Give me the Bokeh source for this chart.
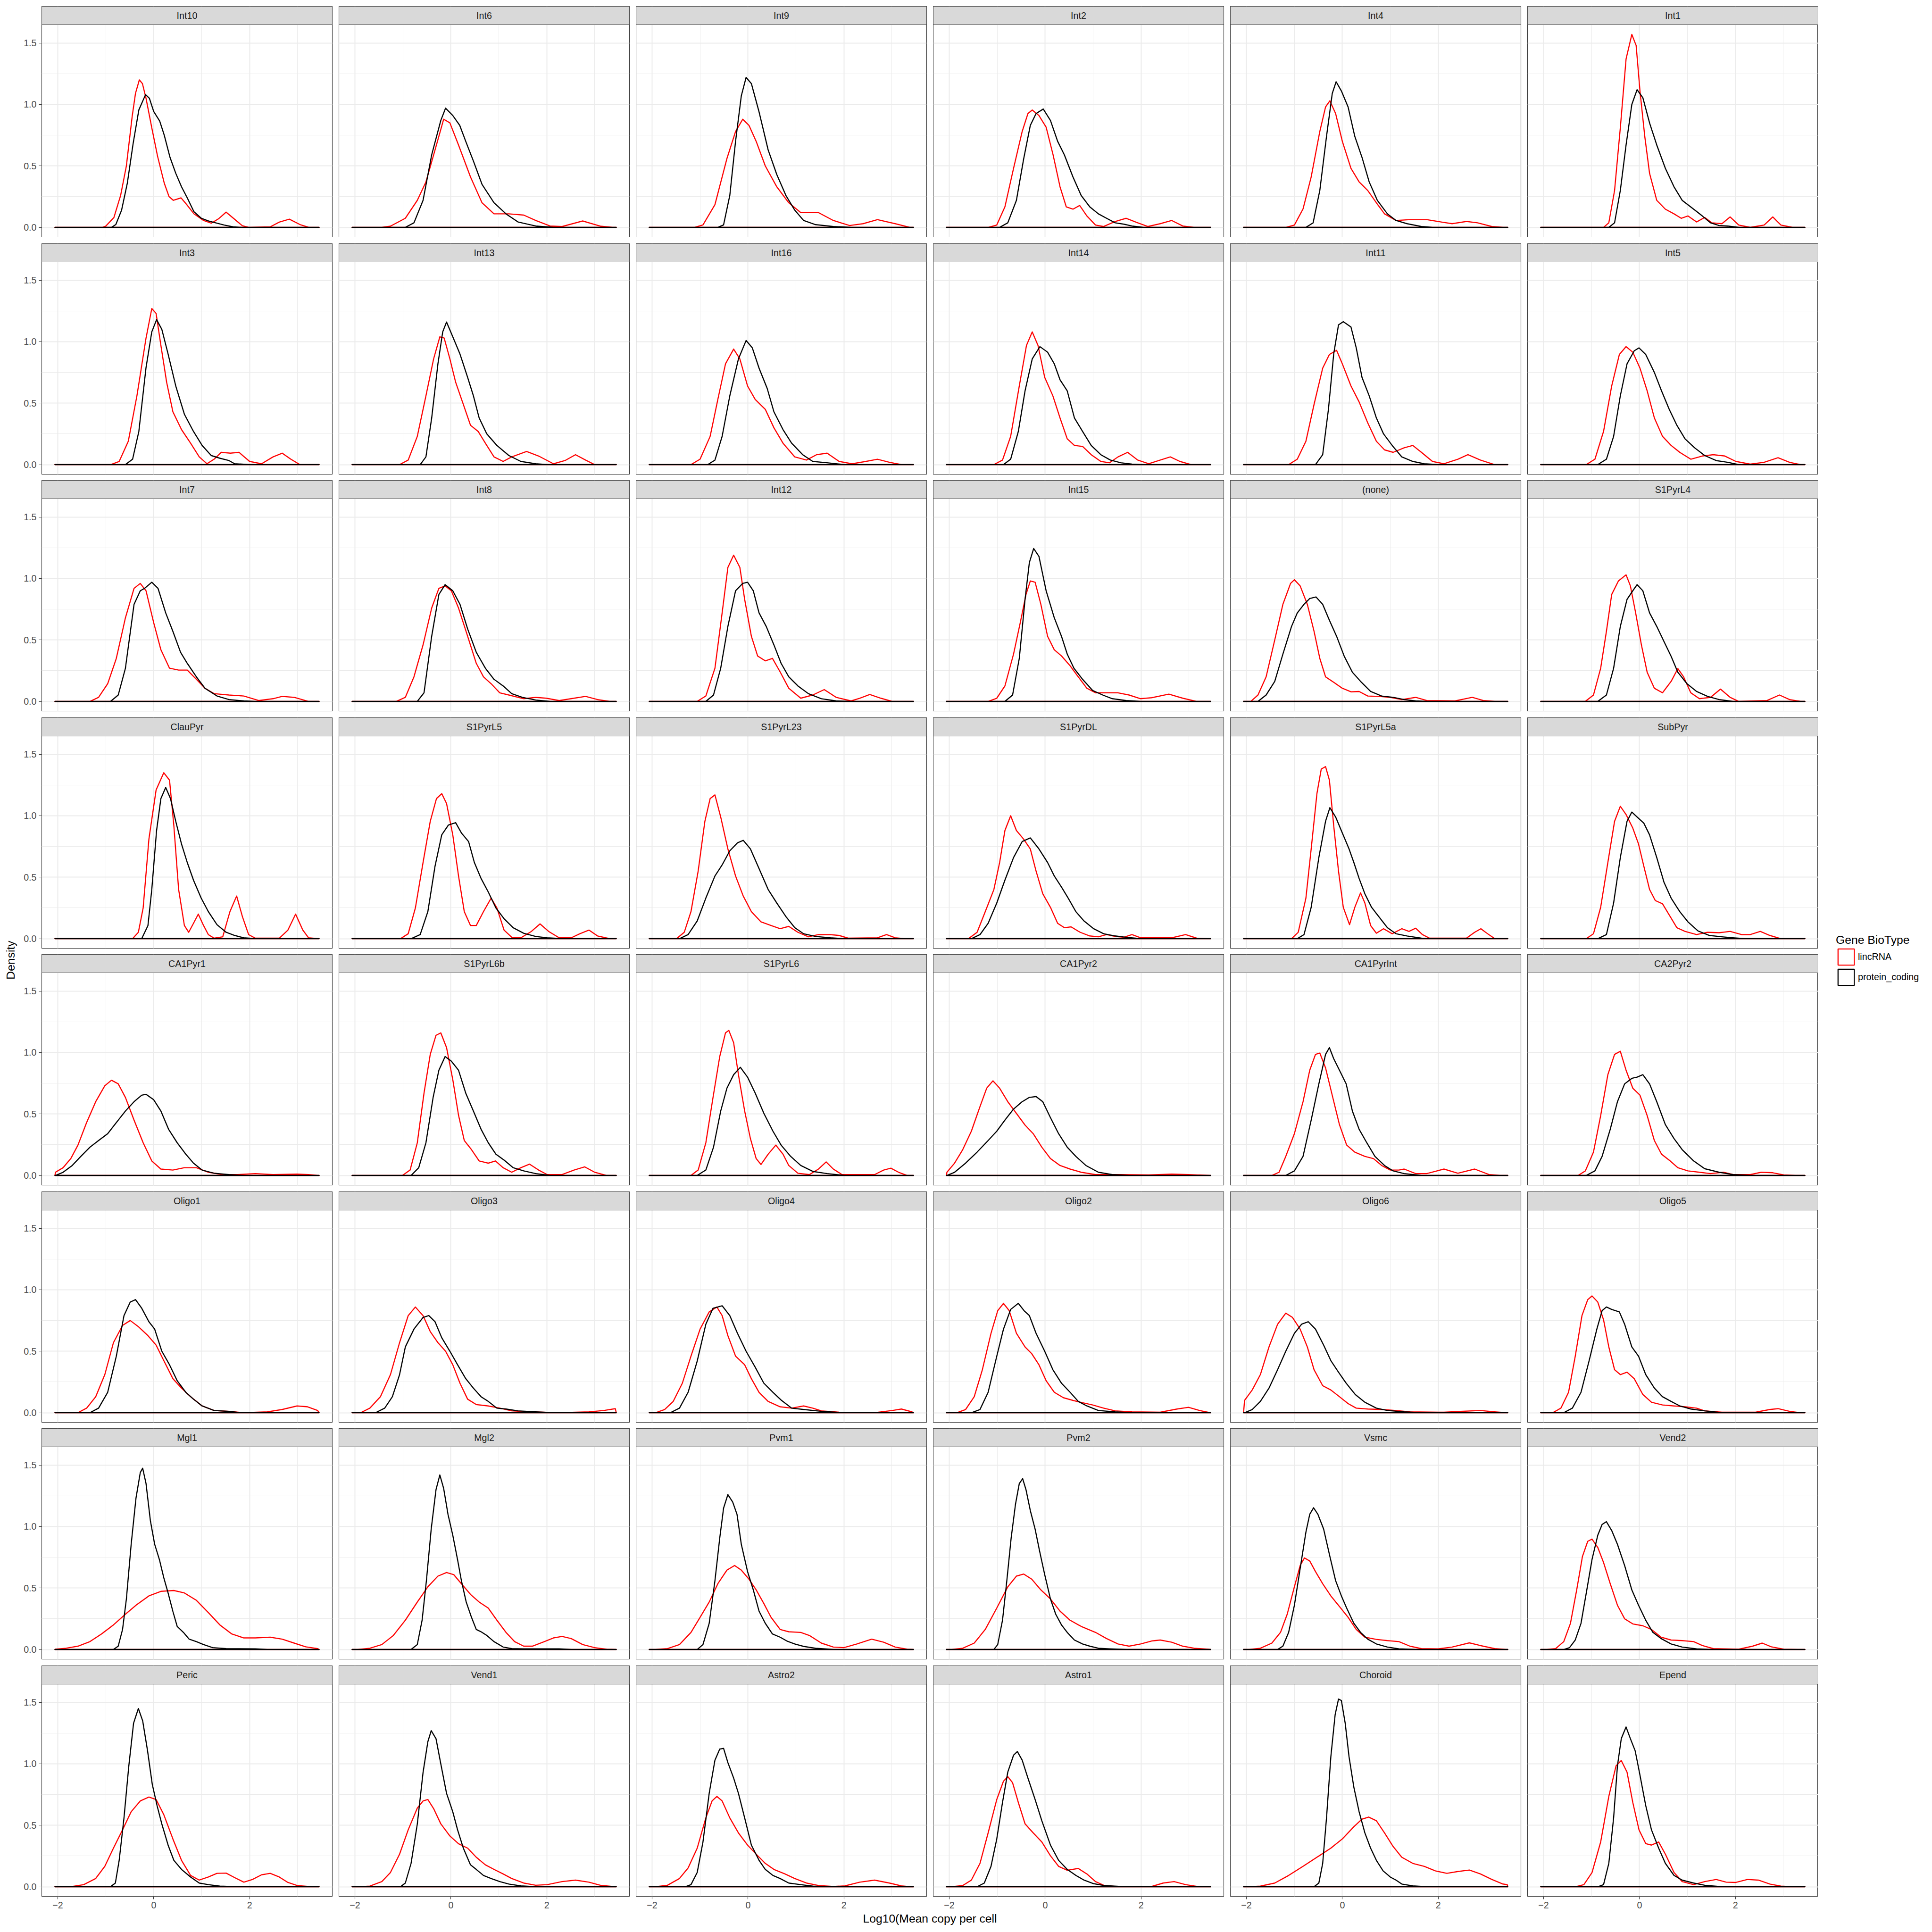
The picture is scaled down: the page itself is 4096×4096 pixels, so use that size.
import math
from bokeh.plotting import figure
from bokeh.models import (Range1d, FixedTicker, BoxAnnotation, Label, Legend,
                          LegendItem, NumeralTickFormatter)
from bokeh.layouts import row, column
from bokeh.embed import file_html
from bokeh.resources import INLINE

# ---------------- data ----------------
X_MIN, X_MAX = -2.06, 3.45
X_TICKS = [-2, 0, 2]
X_MINOR = [-1, 1, 3]
Y_TICKS = [0.0, 0.5, 1.0, 1.5]
Y_MINOR = [0.25, 0.75, 1.25]
SERIES = ["lincRNA", "protein_coding"]
SERIES_COLORS = ["#FF0000", "#000000"]

Int10_lincRNA = [(-1.07,0),(-1.0,0.01),(-0.83,0.08),(-0.69,0.26),(-0.57,0.50),(-0.45,0.90),(-0.38,1.09),(-0.30,1.20),(-0.235,1.17),(-0.16,1.05),(-0.04,0.81),(0.08,0.58),(0.22,0.36),(0.32,0.25),(0.41,0.22),(0.57,0.24),(0.70,0.18),(0.84,0.11),(1.04,0.056),(1.20,0.034),(1.35,0.069),(1.51,0.124),(1.66,0.075),(1.85,0.013),(1.99,0.0),(2.43,0.004),(2.62,0.043),(2.83,0.067),(3.05,0.023),(3.24,0.0)]
Int10_coding = [(-0.88,0),(-0.79,0.023),(-0.67,0.14),(-0.55,0.36),(-0.43,0.68),(-0.31,0.956),(-0.17,1.08),(-0.09,1.05),(0.0,0.943),(0.125,0.865),(0.22,0.75),(0.34,0.57),(0.46,0.44),(0.58,0.33),(0.70,0.24),(0.84,0.127),(0.99,0.075),(1.16,0.05),(1.30,0.036),(1.47,0.019),(1.66,0.004),(1.85,0)]
Int6_lincRNA = [(-1.44,0),(-1.26,0.01),(-0.95,0.074),(-0.70,0.22),(-0.52,0.37),(-0.33,0.63),(-0.15,0.88),(-0.02,0.85),(0.16,0.67),(0.41,0.41),(0.65,0.20),(0.90,0.11),(1.21,0.11),(1.52,0.10),(1.77,0.056),(2.07,0.011),(2.32,0.007),(2.75,0.052),(3.12,0.01),(3.37,0)]
Int6_coding = [(-0.95,0),(-0.77,0.037),(-0.58,0.22),(-0.40,0.59),(-0.21,0.87),(-0.11,0.97),(0.04,0.91),(0.185,0.83),(0.31,0.70),(0.47,0.54),(0.65,0.35),(0.90,0.20),(1.15,0.11),(1.40,0.044),(1.77,0.011),(2.14,0)]
Int9_lincRNA = [(-1.12,0),(-0.94,0.02),(-0.69,0.185),(-0.44,0.56),(-0.26,0.78),(-0.11,0.88),(0.02,0.83),(0.17,0.70),(0.36,0.50),(0.60,0.33),(0.85,0.20),(1.10,0.12),(1.47,0.12),(1.78,0.056),(2.12,0.015),(2.40,0.03),(2.70,0.063),(3.07,0.03),(3.38,0)]
Int9_coding = [(-0.63,0),(-0.51,0.02),(-0.38,0.26),(-0.26,0.70),(-0.14,1.07),(-0.04,1.22),(0.07,1.17),(0.23,0.94),(0.42,0.63),(0.60,0.43),(0.79,0.26),(0.975,0.14),(1.16,0.056),(1.41,0.022),(1.78,0.007),(2.15,0)]
Int2_lincRNA = [(-1.19,0),(-1.01,0.019),(-0.84,0.167),(-0.66,0.48),(-0.48,0.78),(-0.36,0.926),(-0.27,0.955),(-0.13,0.91),(0.02,0.815),(0.165,0.59),(0.31,0.33),(0.44,0.167),(0.58,0.148),(0.72,0.178),(0.87,0.093),(1.05,0.019),(1.22,0.007),(1.46,0.048),(1.69,0.074),(1.93,0.037),(2.14,0.007),(2.40,0.03),(2.64,0.056),(2.87,0.011),(3.1,0)]
Int2_coding = [(-0.95,0),(-0.78,0.037),(-0.60,0.22),(-0.45,0.555),(-0.31,0.83),(-0.19,0.926),(-0.04,0.963),(0.11,0.87),(0.26,0.70),(0.40,0.59),(0.58,0.41),(0.75,0.26),(0.93,0.167),(1.11,0.11),(1.28,0.074),(1.46,0.037),(1.64,0.026),(1.81,0.011),(2.05,0)]
Int4_lincRNA = [(-1.18,0),(-1.0,0.019),(-0.82,0.15),(-0.65,0.41),(-0.47,0.78),(-0.35,0.98),(-0.26,1.03),(-0.14,0.926),(0.0,0.70),(0.18,0.48),(0.35,0.37),(0.53,0.30),(0.71,0.20),(0.88,0.11),(1.12,0.056),(1.41,0.063),(1.76,0.063),(2.06,0.044),(2.29,0.03),(2.59,0.048),(2.82,0.037),(3.12,0.007),(3.35,0)]
Int4_coding = [(-0.76,0),(-0.61,0.037),(-0.47,0.30),(-0.33,0.74),(-0.21,1.09),(-0.13,1.185),(-0.02,1.11),(0.12,0.98),(0.26,0.74),(0.41,0.57),(0.56,0.37),(0.73,0.22),(0.94,0.11),(1.12,0.056),(1.35,0.03),(1.65,0.007),(1.88,0)]
Int1_lincRNA = [(-0.75,0),(-0.64,0.037),(-0.52,0.30),(-0.40,0.81),(-0.28,1.37),(-0.16,1.57),(-0.07,1.48),(0.01,1.11),(0.11,0.74),(0.21,0.44),(0.36,0.22),(0.54,0.148),(0.72,0.11),(0.87,0.074),(1.01,0.093),(1.19,0.044),(1.36,0.081),(1.51,0.037),(1.72,0.03),(1.89,0.085),(2.07,0.019),(2.31,0.0),(2.60,0.019),(2.78,0.085),(2.95,0.019),(3.19,0)]
Int1_coding = [(-0.64,0),(-0.52,0.037),(-0.40,0.30),(-0.28,0.67),(-0.16,1.0),(-0.05,1.12),(0.07,1.055),(0.21,0.85),(0.36,0.67),(0.54,0.48),(0.72,0.33),(0.89,0.22),(1.13,0.148),(1.31,0.093),(1.48,0.037),(1.66,0.015),(1.84,0.011),(2.07,0)]

Int3_lincRNA = [(-0.90,0),(-0.72,0.026),(-0.53,0.19),(-0.35,0.56),(-0.16,1.03),(-0.04,1.27),(0.05,1.23),(0.15,0.97),(0.27,0.67),(0.40,0.43),(0.58,0.285),(0.77,0.174),(0.95,0.063),(1.11,0.007),(1.26,0.044),(1.41,0.10),(1.60,0.093),(1.78,0.10),(2.0,0.026),(2.25,0.007),(2.49,0.063),(2.68,0.093),(2.86,0.044),(3.05,0)]
Int3_coding = [(-0.59,0),(-0.44,0.044),(-0.31,0.27),(-0.16,0.79),(-0.04,1.08),(0.06,1.18),(0.17,1.10),(0.30,0.90),(0.46,0.64),(0.64,0.41),(0.83,0.27),(1.01,0.156),(1.20,0.074),(1.38,0.052),(1.57,0.033),(1.69,0.007),(2.0,0)]
Int13_lincRNA = [(-1.07,0),(-0.89,0.037),(-0.70,0.23),(-0.52,0.56),(-0.36,0.86),(-0.23,1.04),(-0.14,1.03),(-0.02,0.86),(0.10,0.67),(0.26,0.49),(0.41,0.32),(0.57,0.27),(0.72,0.174),(0.90,0.063),(1.09,0.026),(1.27,0.063),(1.58,0.107),(1.83,0.07),(2.14,0.007),(2.38,0.033),(2.60,0.081),(2.81,0.037),(3.0,0)]
Int13_coding = [(-0.64,0),(-0.52,0.063),(-0.40,0.38),(-0.27,0.82),(-0.17,1.08),(-0.09,1.16),(0.04,1.04),(0.19,0.90),(0.35,0.71),(0.47,0.56),(0.59,0.38),(0.75,0.25),(0.96,0.156),(1.21,0.074),(1.46,0.026),(1.77,0.007),(2.01,0)]
Int16_lincRNA = [(-1.19,0),(-1.0,0.044),(-0.79,0.23),(-0.63,0.53),(-0.47,0.82),(-0.30,0.94),(-0.17,0.86),(-0.01,0.64),(0.15,0.53),(0.36,0.45),(0.54,0.30),(0.73,0.174),(0.975,0.063),(1.22,0.037),(1.43,0.081),(1.65,0.093),(1.90,0.026),(2.17,0.007),(2.46,0.026),(2.70,0.044),(2.95,0.019),(3.2,0)]
Int16_coding = [(-0.84,0),(-0.69,0.037),(-0.54,0.23),(-0.38,0.56),(-0.20,0.86),(-0.04,1.01),(0.09,0.95),(0.23,0.785),(0.40,0.62),(0.54,0.43),(0.73,0.285),(0.91,0.174),(1.14,0.081),(1.35,0.026),(1.65,0.015),(2.02,0)]
Int14_lincRNA = [(-1.07,0),(-0.89,0.037),(-0.72,0.23),(-0.54,0.64),(-0.39,0.97),(-0.27,1.08),(-0.15,0.97),(-0.01,0.71),(0.16,0.56),(0.31,0.38),(0.46,0.21),(0.61,0.156),(0.78,0.148),(0.96,0.081),(1.16,0.026),(1.34,0.015),(1.52,0.063),(1.72,0.10),(1.93,0.037),(2.16,0.007),(2.40,0.037),(2.61,0.063),(2.81,0.026),(3.05,0)]
Int14_coding = [(-0.87,0),(-0.72,0.044),(-0.56,0.27),(-0.42,0.60),(-0.27,0.86),(-0.11,0.96),(0.05,0.915),(0.19,0.82),(0.31,0.69),(0.46,0.60),(0.61,0.38),(0.78,0.27),(0.96,0.156),(1.16,0.081),(1.36,0.037),(1.58,0.015),(1.81,0.004),(2.05,0)]
Int11_lincRNA = [(-1.12,0),(-0.94,0.044),(-0.76,0.19),(-0.59,0.49),(-0.41,0.785),(-0.27,0.896),(-0.12,0.93),(0.0,0.82),(0.18,0.64),(0.35,0.51),(0.53,0.34),(0.71,0.19),(0.88,0.12),(1.06,0.10),(1.29,0.137),(1.47,0.156),(1.65,0.10),(1.88,0.026),(2.12,0.007),(2.41,0.044),(2.62,0.081),(2.88,0.037),(3.18,0)]
Int11_coding = [(-0.56,0),(-0.41,0.081),(-0.29,0.45),(-0.18,0.90),(-0.08,1.137),(0.02,1.163),(0.18,1.12),(0.29,0.95),(0.41,0.71),(0.56,0.56),(0.71,0.38),(0.86,0.25),(1.04,0.156),(1.24,0.063),(1.47,0.026),(1.71,0.007),(2.0,0)]
Int5_lincRNA = [(-1.11,0),(-0.93,0.044),(-0.75,0.27),(-0.58,0.64),(-0.42,0.896),(-0.28,0.96),(-0.14,0.915),(0.01,0.785),(0.16,0.60),(0.31,0.38),(0.48,0.23),(0.66,0.156),(0.84,0.10),(1.07,0.044),(1.31,0.07),(1.54,0.081),(1.78,0.07),(2.01,0.026),(2.31,0.004),(2.60,0.019),(2.89,0.056),(3.13,0.019),(3.36,0)]
Int5_coding = [(-0.87,0),(-0.69,0.044),(-0.54,0.23),(-0.40,0.56),(-0.26,0.82),(-0.11,0.926),(-0.01,0.95),(0.13,0.896),(0.31,0.75),(0.46,0.60),(0.62,0.45),(0.78,0.32),(0.95,0.21),(1.15,0.137),(1.36,0.074),(1.60,0.033),(1.84,0.019),(2.07,0)]

Int7_lincRNA = [(-1.33,0),(-1.15,0.033),(-0.96,0.144),(-0.78,0.35),(-0.59,0.68),(-0.41,0.92),(-0.28,0.96),(-0.16,0.90),(0.0,0.64),(0.15,0.42),(0.33,0.27),(0.52,0.255),(0.70,0.255),(0.89,0.18),(1.07,0.107),(1.26,0.063),(1.57,0.052),(1.88,0.044),(2.19,0.007),(2.49,0.022),(2.68,0.041),(2.93,0.033),(3.23,0)]
Int7_coding = [(-0.90,0),(-0.74,0.052),(-0.59,0.27),(-0.41,0.79),(-0.28,0.90),(-0.19,0.92),(-0.04,0.97),(0.09,0.92),(0.25,0.72),(0.40,0.57),(0.56,0.40),(0.70,0.31),(0.89,0.20),(1.07,0.107),(1.32,0.044),(1.57,0.015),(1.88,0.004),(2.12,0)]
Int8_lincRNA = [(-1.14,0),(-0.95,0.033),(-0.77,0.20),(-0.58,0.46),(-0.40,0.76),(-0.25,0.92),(-0.12,0.94),(0.01,0.90),(0.16,0.76),(0.35,0.53),(0.53,0.31),(0.68,0.20),(0.84,0.144),(1.02,0.07),(1.21,0.052),(1.52,0.022),(1.77,0.033),(1.99,0.026),(2.26,0.007),(2.57,0.026),(2.81,0.041),(3.06,0.015),(3.31,0)]
Int8_coding = [(-0.70,0),(-0.56,0.07),(-0.40,0.53),(-0.25,0.87),(-0.12,0.95),(0.04,0.90),(0.19,0.79),(0.35,0.59),(0.53,0.40),(0.72,0.27),(0.90,0.18),(1.09,0.126),(1.27,0.063),(1.49,0.033),(1.77,0.011),(2.07,0)]
Int12_lincRNA = [(-1.06,0),(-0.88,0.044),(-0.69,0.27),(-0.54,0.72),(-0.42,1.09),(-0.30,1.19),(-0.17,1.09),(-0.07,0.83),(0.07,0.53),(0.20,0.37),(0.36,0.33),(0.51,0.35),(0.67,0.24),(0.85,0.107),(1.10,0.026),(1.35,0.052),(1.59,0.096),(1.84,0.033),(2.15,0.004),(2.33,0.026),(2.54,0.056),(2.77,0.026),(3.01,0)]
Int12_coding = [(-0.88,0),(-0.72,0.052),(-0.57,0.27),(-0.42,0.61),(-0.26,0.90),(-0.11,0.96),(-0.01,0.97),(0.11,0.90),(0.23,0.72),(0.38,0.61),(0.54,0.46),(0.69,0.31),(0.85,0.20),(1.04,0.126),(1.26,0.063),(1.53,0.022),(1.84,0.004),(2.15,0)]
Int15_lincRNA = [(-1.19,0),(-1.01,0.026),(-0.84,0.126),(-0.66,0.385),(-0.52,0.64),(-0.40,0.87),(-0.31,0.98),(-0.21,0.97),(-0.09,0.79),(0.05,0.53),(0.19,0.42),(0.34,0.37),(0.52,0.29),(0.69,0.20),(0.87,0.107),(1.05,0.07),(1.28,0.07),(1.52,0.07),(1.75,0.052),(1.99,0.022),(2.22,0.03),(2.58,0.059),(2.87,0.026),(3.16,0)]
Int15_coding = [(-0.84,0),(-0.68,0.052),(-0.54,0.35),(-0.42,0.83),(-0.33,1.13),(-0.24,1.244),(-0.13,1.18),(0.02,0.90),(0.19,0.68),(0.34,0.53),(0.46,0.385),(0.60,0.27),(0.78,0.18),(0.99,0.089),(1.20,0.052),(1.40,0.022),(1.69,0.007),(1.99,0)]
none_lincRNA = [(-1.91,0),(-1.76,0.052),(-1.59,0.20),(-1.41,0.50),(-1.24,0.79),(-1.08,0.96),(-1.0,0.99),(-0.88,0.94),(-0.73,0.79),(-0.59,0.57),(-0.47,0.35),(-0.35,0.20),(-0.18,0.156),(0.0,0.107),(0.18,0.078),(0.35,0.081),(0.53,0.044),(0.76,0.041),(1.0,0.033),(1.24,0.015),(1.53,0.033),(1.76,0.007),(2.35,0.004),(2.71,0.033),(2.94,0.007),(3.18,0)]
none_coding = [(-1.76,0),(-1.59,0.052),(-1.41,0.163),(-1.24,0.385),(-1.06,0.61),(-0.94,0.72),(-0.80,0.79),(-0.68,0.837),(-0.55,0.85),(-0.41,0.79),(-0.27,0.66),(-0.12,0.53),(0.04,0.367),(0.21,0.237),(0.38,0.163),(0.59,0.081),(0.82,0.044),(1.06,0.033),(1.29,0.015),(1.53,0.004),(1.76,0)]
S1PyrL4_lincRNA = [(-1.13,0),(-0.96,0.052),(-0.81,0.27),(-0.69,0.57),(-0.58,0.87),(-0.44,0.98),(-0.28,1.03),(-0.19,0.94),(-0.08,0.72),(0.04,0.46),(0.16,0.237),(0.31,0.107),(0.48,0.07),(0.66,0.163),(0.80,0.267),(0.92,0.20),(1.07,0.07),(1.25,0.022),(1.48,0.033),(1.69,0.10),(1.89,0.033),(2.07,0.0),(2.66,0.007),(2.92,0.052),(3.13,0.015),(3.36,0)]
S1PyrL4_coding = [(-0.87,0),(-0.69,0.052),(-0.54,0.27),(-0.40,0.61),(-0.26,0.83),(-0.14,0.90),(-0.05,0.95),(0.07,0.90),(0.21,0.72),(0.36,0.61),(0.52,0.48),(0.66,0.367),(0.80,0.237),(0.99,0.144),(1.19,0.081),(1.42,0.041),(1.66,0.015),(1.95,0)]

ClauPyr_lincRNA = [(-0.44,0),(-0.32,0.052),(-0.22,0.25),(-0.10,0.81),(0.05,1.21),(0.21,1.35),(0.33,1.29),(0.42,0.92),(0.52,0.40),(0.64,0.107),(0.73,0.052),(0.83,0.125),(0.93,0.20),(1.04,0.107),(1.14,0.033),(1.26,0.004),(1.44,0.015),(1.59,0.22),(1.73,0.347),(1.85,0.18),(1.98,0.033),(2.12,0.004),(2.62,0.004),(2.80,0.07),(2.96,0.20),(3.11,0.07),(3.23,0.007),(3.42,0)]
ClauPyr_coding = [(-0.25,0),(-0.12,0.107),(-0.04,0.40),(0.06,0.88),(0.15,1.14),(0.25,1.23),(0.35,1.14),(0.46,0.955),(0.58,0.77),(0.70,0.62),(0.83,0.476),(0.99,0.33),(1.14,0.22),(1.32,0.114),(1.51,0.052),(1.69,0.026),(1.88,0.007),(2.12,0)]
S1PyrL5_lincRNA = [(-1.05,0),(-0.89,0.04),(-0.74,0.25),(-0.58,0.62),(-0.43,0.955),(-0.30,1.14),(-0.19,1.18),(-0.09,1.10),(0.04,0.845),(0.16,0.51),(0.28,0.22),(0.41,0.107),(0.53,0.107),(0.68,0.22),(0.84,0.33),(0.96,0.25),(1.11,0.07),(1.27,0.011),(1.46,0.007),(1.68,0.059),(1.86,0.12),(2.04,0.059),(2.26,0.007),(2.51,0.007),(2.69,0.04),(2.88,0.07),(3.06,0.022),(3.31,0)]
S1PyrL5_coding = [(-0.83,0),(-0.64,0.033),(-0.48,0.22),(-0.33,0.59),(-0.19,0.845),(-0.05,0.925),(0.10,0.944),(0.22,0.86),(0.37,0.79),(0.49,0.62),(0.63,0.49),(0.78,0.38),(0.94,0.25),(1.11,0.162),(1.30,0.089),(1.52,0.044),(1.77,0.018),(2.01,0.007),(2.32,0)]
S1PyrL23_lincRNA = [(-1.49,0),(-1.33,0.052),(-1.19,0.22),(-1.04,0.55),(-0.90,0.955),(-0.79,1.14),(-0.69,1.17),(-0.57,0.99),(-0.42,0.73),(-0.26,0.51),(-0.10,0.347),(0.07,0.22),(0.27,0.137),(0.48,0.107),(0.67,0.081),(0.85,0.10),(1.04,0.052),(1.26,0.015),(1.47,0.033),(1.72,0.033),(1.90,0.026),(2.09,0.004),(2.70,0.007),(2.89,0.033),(3.07,0.007),(3.26,0)]
S1PyrL23_coding = [(-1.43,0),(-1.25,0.033),(-1.06,0.144),(-0.88,0.33),(-0.69,0.51),(-0.54,0.60),(-0.38,0.715),(-0.22,0.78),(-0.10,0.80),(0.05,0.73),(0.23,0.57),(0.42,0.40),(0.60,0.29),(0.79,0.18),(0.975,0.089),(1.16,0.04),(1.41,0.018),(1.72,0.007),(2.02,0)]
S1PyrDL_lincRNA = [(-1.60,0),(-1.42,0.052),(-1.25,0.22),(-1.07,0.40),(-0.95,0.62),(-0.84,0.88),(-0.72,1.0),(-0.60,0.88),(-0.45,0.81),(-0.31,0.73),(-0.19,0.55),(-0.05,0.365),(0.11,0.255),(0.26,0.125),(0.40,0.089),(0.54,0.096),(0.73,0.052),(0.93,0.022),(1.11,0.015),(1.28,0.033),(1.46,0.018),(1.64,0.011),(1.81,0.033),(1.99,0.007),(2.64,0.007),(2.93,0.033),(3.16,0.004),(3.40,0)]
S1PyrDL_coding = [(-1.54,0),(-1.36,0.033),(-1.19,0.125),(-1.01,0.29),(-0.84,0.476),(-0.66,0.66),(-0.48,0.79),(-0.31,0.82),(-0.13,0.73),(0.05,0.62),(0.19,0.51),(0.34,0.42),(0.48,0.33),(0.64,0.22),(0.81,0.144),(1.01,0.081),(1.22,0.04),(1.46,0.022),(1.69,0.011),(1.99,0)]
S1PyrL5a_lincRNA = [(-1.06,0),(-0.92,0.052),(-0.76,0.33),(-0.65,0.73),(-0.53,1.18),(-0.44,1.38),(-0.35,1.40),(-0.27,1.29),(-0.18,0.92),(-0.08,0.55),(0.02,0.255),(0.15,0.114),(0.26,0.255),(0.38,0.373),(0.47,0.29),(0.59,0.107),(0.71,0.044),(0.86,0.081),(1.04,0.04),(1.24,0.081),(1.39,0.059),(1.53,0.085),(1.67,0.033),(1.82,0.004),(2.59,0.004),(2.76,0.052),(2.89,0.081),(3.03,0.04),(3.18,0)]
S1PyrL5a_coding = [(-0.94,0),(-0.80,0.033),(-0.65,0.255),(-0.49,0.66),(-0.35,0.955),(-0.26,1.066),(-0.14,0.99),(0.0,0.86),(0.14,0.73),(0.24,0.62),(0.35,0.49),(0.47,0.365),(0.61,0.255),(0.76,0.18),(0.94,0.089),(1.12,0.04),(1.35,0.022),(1.65,0.004),(1.88,0)]
SubPyr_lincRNA = [(-1.11,0),(-0.96,0.04),(-0.81,0.255),(-0.66,0.62),(-0.52,0.955),(-0.40,1.077),(-0.28,1.01),(-0.14,0.90),(-0.02,0.77),(0.09,0.59),(0.21,0.40),(0.33,0.31),(0.48,0.284),(0.64,0.18),(0.78,0.089),(0.95,0.059),(1.19,0.033),(1.42,0.052),(1.66,0.048),(1.89,0.059),(2.13,0.033),(2.31,0.033),(2.52,0.059),(2.72,0.026),(2.95,0)]
SubPyr_coding = [(-0.87,0),(-0.69,0.033),(-0.54,0.29),(-0.40,0.66),(-0.26,0.955),(-0.16,1.03),(-0.05,0.99),(0.09,0.94),(0.21,0.845),(0.36,0.66),(0.51,0.46),(0.66,0.33),(0.84,0.22),(1.01,0.137),(1.22,0.063),(1.46,0.026),(1.72,0.015),(1.95,0.007),(2.19,0)]

CA1Pyr1_lincRNA = [(-2.05,0.026),(-1.89,0.063),(-1.73,0.137),(-1.58,0.247),(-1.40,0.43),(-1.21,0.60),(-1.02,0.73),(-0.88,0.775),(-0.74,0.745),(-0.59,0.635),(-0.41,0.45),(-0.22,0.266),(-0.04,0.118),(0.15,0.052),(0.40,0.044),(0.64,0.063),(0.89,0.063),(1.14,0.026),(1.44,0.007),(1.75,0.007),(2.12,0.015),(2.49,0.007),(2.99,0.011),(3.23,0.007),(3.42,0)]
CA1Pyr1_coding = [(-2.05,0),(-1.89,0.026),(-1.70,0.081),(-1.52,0.155),(-1.33,0.23),(-1.15,0.284),(-0.96,0.34),(-0.78,0.43),(-0.59,0.524),(-0.41,0.60),(-0.25,0.653),(-0.16,0.66),(0.0,0.616),(0.15,0.524),(0.31,0.376),(0.49,0.266),(0.67,0.173),(0.83,0.10),(1.01,0.044),(1.26,0.018),(1.57,0.007),(1.88,0)]
S1PyrL6b_lincRNA = [(-1.01,0),(-0.85,0.044),(-0.70,0.266),(-0.56,0.67),(-0.43,0.985),(-0.31,1.14),(-0.21,1.16),(-0.09,1.04),(0.04,0.78),(0.16,0.49),(0.28,0.284),(0.43,0.21),(0.59,0.118),(0.78,0.10),(0.93,0.118),(1.09,0.063),(1.27,0.026),(1.46,0.063),(1.64,0.092),(1.83,0.044),(2.01,0.007),(2.32,0.007),(2.57,0.044),(2.79,0.07),(3.0,0.026),(3.25,0)]
S1PyrL6b_coding = [(-0.83,0),(-0.67,0.063),(-0.52,0.266),(-0.37,0.635),(-0.25,0.856),(-0.12,0.967),(0.01,0.93),(0.16,0.856),(0.31,0.67),(0.47,0.524),(0.63,0.376),(0.78,0.266),(0.94,0.173),(1.11,0.125),(1.30,0.063),(1.52,0.037),(1.77,0.015),(2.07,0)]
S1PyrL6_lincRNA = [(-1.19,0),(-1.04,0.044),(-0.88,0.266),(-0.73,0.635),(-0.59,0.967),(-0.47,1.16),(-0.40,1.18),(-0.30,1.08),(-0.20,0.82),(-0.07,0.524),(0.05,0.30),(0.17,0.137),(0.27,0.089),(0.42,0.173),(0.58,0.247),(0.73,0.173),(0.85,0.081),(1.04,0.018),(1.28,0.007),(1.47,0.052),(1.63,0.11),(1.78,0.052),(1.96,0.007),(2.64,0.007),(2.83,0.044),(2.98,0.059),(3.14,0.026),(3.32,0)]
S1PyrL6_coding = [(-1.06,0),(-0.88,0.044),(-0.72,0.23),(-0.57,0.524),(-0.44,0.71),(-0.30,0.82),(-0.16,0.88),(-0.01,0.80),(0.15,0.67),(0.33,0.506),(0.52,0.36),(0.69,0.247),(0.89,0.155),(1.10,0.081),(1.35,0.033),(1.65,0.015),(2.02,0)]
CA1Pyr2_lincRNA = [(-2.05,0.026),(-1.89,0.10),(-1.72,0.21),(-1.54,0.36),(-1.36,0.56),(-1.22,0.71),(-1.09,0.77),(-0.95,0.71),(-0.78,0.60),(-0.60,0.505),(-0.42,0.41),(-0.25,0.34),(-0.07,0.23),(0.11,0.137),(0.31,0.081),(0.52,0.052),(0.75,0.026),(1.05,0.007),(1.58,0.007),(2.16,0.004),(2.64,0.011),(2.99,0.007),(3.44,0)]
CA1Pyr2_coding = [(-2.05,0),(-1.89,0.026),(-1.66,0.10),(-1.42,0.19),(-1.19,0.284),(-1.01,0.36),(-0.84,0.45),(-0.66,0.54),(-0.48,0.60),(-0.33,0.635),(-0.19,0.642),(-0.05,0.60),(0.11,0.47),(0.28,0.34),(0.46,0.23),(0.64,0.155),(0.85,0.081),(1.11,0.026),(1.40,0.007),(1.75,0)]
CA1PyrInt_lincRNA = [(-1.47,0),(-1.32,0.026),(-1.18,0.155),(-1.0,0.34),(-0.82,0.60),(-0.68,0.856),(-0.56,0.985),(-0.47,0.996),(-0.35,0.875),(-0.20,0.635),(-0.06,0.413),(0.09,0.247),(0.26,0.19),(0.47,0.155),(0.65,0.137),(0.82,0.081),(1.0,0.044),(1.18,0.044),(1.29,0.052),(1.53,0.015),(1.76,0.015),(2.12,0.052),(2.41,0.018),(2.76,0.052),(3.06,0.007),(3.29,0)]
CA1PyrInt_coding = [(-1.18,0),(-1.0,0.037),(-0.82,0.155),(-0.65,0.45),(-0.49,0.745),(-0.35,0.985),(-0.27,1.04),(-0.18,0.95),(-0.06,0.856),(0.08,0.745),(0.21,0.524),(0.35,0.376),(0.51,0.266),(0.68,0.155),(0.88,0.081),(1.06,0.037),(1.29,0.015),(1.65,0)]
CA2Pyr2_lincRNA = [(-1.28,0),(-1.13,0.037),(-0.96,0.19),(-0.81,0.487),(-0.66,0.82),(-0.52,0.985),(-0.40,1.01),(-0.28,0.856),(-0.14,0.71),(0.01,0.653),(0.16,0.487),(0.31,0.284),(0.46,0.173),(0.64,0.118),(0.80,0.063),(1.01,0.037),(1.25,0.026),(1.48,0.015),(1.75,0.026),(1.95,0.007),(2.31,0.007),(2.54,0.026),(2.78,0.022),(3.01,0.004),(3.25,0)]
CA2Pyr2_coding = [(-1.11,0),(-0.93,0.037),(-0.78,0.155),(-0.61,0.376),(-0.46,0.60),(-0.31,0.745),(-0.16,0.79),(-0.05,0.80),(0.07,0.82),(0.21,0.745),(0.36,0.60),(0.54,0.413),(0.72,0.30),(0.89,0.21),(1.13,0.118),(1.36,0.055),(1.66,0.026),(1.95,0.007),(2.31,0)]

Oligo1_lincRNA = [(-1.58,0),(-1.40,0.037),(-1.21,0.13),(-1.02,0.31),(-0.84,0.57),(-0.65,0.71),(-0.49,0.75),(-0.32,0.70),(-0.12,0.627),(0.05,0.55),(0.21,0.424),(0.40,0.277),(0.58,0.20),(0.77,0.13),(1.01,0.055),(1.26,0.018),(1.57,0.011),(1.88,0.0),(2.37,0.007),(2.68,0.026),(2.99,0.055),(3.21,0.048),(3.42,0.018)]
Oligo1_coding = [(-1.33,0),(-1.15,0.037),(-0.96,0.166),(-0.78,0.46),(-0.62,0.79),(-0.49,0.90),(-0.38,0.92),(-0.25,0.85),(-0.10,0.74),(0.02,0.68),(0.17,0.50),(0.33,0.39),(0.49,0.26),(0.67,0.166),(0.83,0.11),(1.01,0.055),(1.26,0.018),(1.57,0.011),(1.81,0)]
Oligo3_lincRNA = [(-1.88,0),(-1.69,0.037),(-1.47,0.13),(-1.26,0.31),(-1.07,0.57),(-0.89,0.79),(-0.74,0.86),(-0.58,0.79),(-0.43,0.66),(-0.27,0.57),(-0.11,0.50),(0.04,0.39),(0.19,0.24),(0.35,0.11),(0.53,0.066),(0.78,0.055),(1.02,0.037),(1.27,0.015),(1.64,0.007),(2.26,0.0),(2.88,0.007),(3.19,0.018),(3.43,0.033)]
Oligo3_coding = [(-1.57,0),(-1.38,0.037),(-1.22,0.13),(-1.07,0.31),(-0.95,0.535),(-0.77,0.68),(-0.58,0.775),(-0.46,0.79),(-0.33,0.74),(-0.19,0.61),(-0.02,0.50),(0.14,0.39),(0.31,0.277),(0.47,0.20),(0.63,0.13),(0.78,0.092),(0.96,0.037),(1.15,0.03),(1.40,0.015),(1.77,0.007),(2.14,0)]
Oligo4_lincRNA = [(-1.93,0),(-1.74,0.026),(-1.56,0.092),(-1.37,0.24),(-1.19,0.46),(-1.0,0.68),(-0.81,0.82),(-0.65,0.86),(-0.54,0.79),(-0.42,0.627),(-0.26,0.46),(-0.07,0.39),(0.07,0.277),(0.23,0.166),(0.42,0.092),(0.67,0.048),(0.91,0.037),(1.16,0.055),(1.35,0.037),(1.53,0.015),(1.90,0.004),(2.64,0.0),(3.01,0.018),(3.20,0.03),(3.42,0.007)]
Oligo4_coding = [(-1.62,0),(-1.43,0.037),(-1.25,0.166),(-1.06,0.42),(-0.88,0.72),(-0.73,0.85),(-0.54,0.87),(-0.38,0.79),(-0.22,0.646),(-0.04,0.50),(0.15,0.37),(0.33,0.24),(0.52,0.166),(0.69,0.103),(0.91,0.037),(1.16,0.026),(1.53,0.011),(2.02,0)]
Oligo2_lincRNA = [(-1.84,0),(-1.66,0.026),(-1.48,0.13),(-1.31,0.35),(-1.13,0.646),(-0.99,0.83),(-0.87,0.89),(-0.75,0.83),(-0.60,0.646),(-0.42,0.535),(-0.28,0.48),(-0.13,0.39),(0.02,0.26),(0.19,0.166),(0.38,0.122),(0.58,0.10),(0.78,0.081),(0.99,0.063),(1.22,0.037),(1.46,0.015),(1.81,0.007),(2.40,0.004),(2.75,0.03),(2.99,0.044),(3.22,0.018),(3.44,0)]
Oligo2_coding = [(-1.54,0),(-1.36,0.026),(-1.19,0.166),(-1.01,0.46),(-0.87,0.68),(-0.72,0.84),(-0.56,0.89),(-0.44,0.83),(-0.33,0.79),(-0.19,0.646),(-0.01,0.50),(0.16,0.35),(0.34,0.24),(0.52,0.166),(0.69,0.092),(0.87,0.055),(1.11,0.018),(1.46,0.007),(1.81,0)]
Oligo6_lincRNA = [(-2.04,0.10),(-1.88,0.185),(-1.71,0.31),(-1.53,0.535),(-1.35,0.72),(-1.18,0.81),(-1.04,0.775),(-0.88,0.68),(-0.73,0.535),(-0.59,0.35),(-0.41,0.22),(-0.24,0.185),(-0.06,0.13),(0.12,0.074),(0.29,0.037),(0.53,0.03),(0.82,0.026),(1.12,0.018),(1.41,0.007),(2.12,0.004),(2.47,0.011),(2.88,0.018),(3.18,0.007),(3.41,0)]
Oligo6_coding = [(-2.04,0),(-1.88,0.026),(-1.71,0.092),(-1.53,0.20),(-1.35,0.35),(-1.18,0.50),(-1.0,0.646),(-0.85,0.72),(-0.71,0.74),(-0.56,0.68),(-0.39,0.55),(-0.24,0.424),(-0.08,0.33),(0.08,0.24),(0.27,0.148),(0.47,0.085),(0.71,0.037),(0.94,0.018),(1.29,0.007),(1.65,0)]
Oligo5_lincRNA = [(-1.81,0),(-1.64,0.037),(-1.48,0.166),(-1.34,0.46),(-1.20,0.79),(-1.08,0.92),(-0.99,0.95),(-0.87,0.90),(-0.75,0.756),(-0.64,0.535),(-0.52,0.35),(-0.40,0.31),(-0.26,0.33),(-0.11,0.277),(0.07,0.148),(0.25,0.085),(0.48,0.063),(0.72,0.055),(0.95,0.048),(1.19,0.037),(1.36,0.015),(1.72,0.004),(2.42,0.004),(2.72,0.026),(2.89,0.033),(3.13,0.011),(3.36,0)]
Oligo5_coding = [(-1.58,0),(-1.40,0.037),(-1.22,0.166),(-1.05,0.424),(-0.89,0.68),(-0.78,0.83),(-0.69,0.86),(-0.58,0.84),(-0.42,0.82),(-0.31,0.72),(-0.16,0.535),(-0.02,0.46),(0.13,0.31),(0.31,0.20),(0.48,0.13),(0.66,0.092),(0.84,0.055),(1.07,0.03),(1.36,0.015),(1.72,0)]

Mgl1_lincRNA = [(-2.05,0.002),(-1.83,0.01),(-1.58,0.027),(-1.33,0.064),(-1.09,0.126),(-0.84,0.20),(-0.59,0.287),(-0.35,0.366),(-0.10,0.436),(0.15,0.473),(0.42,0.48),(0.64,0.46),(0.89,0.40),(1.14,0.30),(1.38,0.20),(1.63,0.126),(1.88,0.094),(2.12,0.094),(2.43,0.10),(2.68,0.084),(2.93,0.052),(3.17,0.022),(3.42,0.007)]
Mgl1_coding = [(-0.84,0),(-0.74,0.027),(-0.65,0.163),(-0.57,0.41),(-0.47,0.856),(-0.37,1.23),(-0.28,1.44),(-0.23,1.475),(-0.16,1.35),(-0.07,1.05),(0.02,0.856),(0.12,0.73),(0.21,0.584),(0.30,0.46),(0.40,0.31),(0.49,0.188),(0.62,0.139),(0.74,0.084),(0.89,0.064),(1.04,0.04),(1.23,0.015),(1.51,0.007),(2.12,0.005),(2.37,0)]
Mgl2_lincRNA = [(-1.94,0),(-1.69,0.01),(-1.44,0.04),(-1.20,0.114),(-0.95,0.238),(-0.70,0.386),(-0.48,0.51),(-0.27,0.597),(-0.09,0.626),(0.06,0.609),(0.22,0.535),(0.41,0.448),(0.59,0.386),(0.78,0.337),(0.96,0.238),(1.15,0.139),(1.33,0.064),(1.52,0.027),(1.70,0.027),(1.95,0.064),(2.14,0.094),(2.32,0.106),(2.51,0.089),(2.75,0.04),(3.0,0.015),(3.25,0.002)]
Mgl2_coding = [(-0.83,0),(-0.70,0.04),(-0.60,0.238),(-0.51,0.56),(-0.41,0.98),(-0.31,1.30),(-0.23,1.42),(-0.15,1.31),(-0.06,1.10),(0.04,0.93),(0.14,0.73),(0.22,0.56),(0.32,0.386),(0.43,0.262),(0.53,0.163),(0.63,0.144),(0.75,0.114),(0.90,0.064),(1.09,0.02),(1.27,0.007),(1.52,0.005),(2.26,0.005),(2.51,0)]
Pvm1_lincRNA = [(-1.93,0),(-1.68,0.007),(-1.43,0.04),(-1.19,0.139),(-1.0,0.262),(-0.81,0.386),(-0.63,0.535),(-0.44,0.646),(-0.28,0.683),(-0.14,0.646),(0.02,0.572),(0.17,0.485),(0.33,0.374),(0.48,0.262),(0.67,0.163),(0.85,0.144),(1.10,0.139),(1.28,0.114),(1.53,0.052),(1.78,0.02),(2.0,0.015),(2.27,0.045),(2.58,0.084),(2.83,0.059),(3.07,0.02),(3.32,0.002)]
Pvm1_coding = [(-1.06,0),(-0.94,0.04),(-0.81,0.213),(-0.69,0.56),(-0.59,0.906),(-0.51,1.15),(-0.42,1.26),(-0.32,1.20),(-0.23,1.10),(-0.14,0.856),(-0.01,0.634),(0.11,0.485),(0.23,0.312),(0.36,0.213),(0.51,0.126),(0.67,0.10),(0.81,0.069),(0.975,0.045),(1.16,0.025),(1.41,0.01),(1.78,0)]
Pvm2_lincRNA = [(-1.95,0),(-1.72,0.01),(-1.48,0.052),(-1.25,0.163),(-1.01,0.337),(-0.78,0.51),(-0.60,0.597),(-0.45,0.614),(-0.28,0.572),(-0.09,0.485),(0.11,0.411),(0.31,0.312),(0.52,0.238),(0.75,0.188),(1.05,0.139),(1.28,0.089),(1.52,0.045),(1.75,0.027),(1.99,0.045),(2.22,0.069),(2.40,0.077),(2.64,0.059),(2.87,0.027),(3.11,0.01),(3.40,0.002)]
Pvm2_coding = [(-1.07,0),(-0.99,0.04),(-0.89,0.238),(-0.80,0.56),(-0.71,0.906),(-0.62,1.18),(-0.54,1.35),(-0.47,1.39),(-0.40,1.30),(-0.31,1.13),(-0.21,0.98),(-0.12,0.807),(-0.01,0.609),(0.11,0.411),(0.22,0.287),(0.34,0.20),(0.46,0.139),(0.61,0.077),(0.78,0.045),(0.93,0.027),(1.11,0.01),(1.34,0.005),(1.69,0)]
Vsmc_lincRNA = [(-1.94,0),(-1.71,0.01),(-1.47,0.052),(-1.29,0.139),(-1.15,0.287),(-1.0,0.51),(-0.88,0.683),(-0.79,0.745),(-0.68,0.72),(-0.56,0.634),(-0.41,0.535),(-0.24,0.436),(-0.06,0.349),(0.12,0.262),(0.29,0.163),(0.47,0.10),(0.71,0.082),(0.94,0.072),(1.18,0.064),(1.41,0.027),(1.65,0.007),(2.0,0.005),(2.29,0.02),(2.65,0.054),(2.88,0.032),(3.18,0.007),(3.41,0)]
Vsmc_coding = [(-1.35,0),(-1.24,0.027),(-1.12,0.139),(-1.0,0.36),(-0.88,0.658),(-0.76,0.955),(-0.68,1.10),(-0.60,1.153),(-0.51,1.10),(-0.39,0.98),(-0.26,0.757),(-0.14,0.56),(-0.02,0.436),(0.09,0.337),(0.24,0.213),(0.38,0.139),(0.53,0.084),(0.71,0.045),(0.94,0.02),(1.18,0.005),(1.53,0)]
Vend2_lincRNA = [(-1.93,0),(-1.75,0.007),(-1.58,0.064),(-1.44,0.213),(-1.31,0.485),(-1.19,0.757),(-1.08,0.88),(-0.99,0.898),(-0.87,0.83),(-0.75,0.708),(-0.61,0.535),(-0.46,0.36),(-0.31,0.25),(-0.14,0.208),(0.07,0.193),(0.25,0.163),(0.45,0.10),(0.66,0.077),(0.89,0.072),(1.13,0.064),(1.31,0.032),(1.54,0.007),(2.07,0.002),(2.36,0.027),(2.56,0.052),(2.75,0.022),(3.01,0.002)]
Vend2_coding = [(-1.58,0),(-1.46,0.015),(-1.34,0.077),(-1.22,0.213),(-1.11,0.46),(-0.99,0.733),(-0.87,0.93),(-0.78,1.017),(-0.69,1.04),(-0.58,0.968),(-0.46,0.856),(-0.31,0.683),(-0.16,0.485),(-0.02,0.36),(0.13,0.238),(0.28,0.139),(0.45,0.089),(0.66,0.045),(0.89,0.02),(1.19,0.005),(1.48,0)]

Peric_lincRNA = [(-1.95,0),(-1.70,0.002),(-1.46,0.017),(-1.21,0.067),(-1.02,0.166),(-0.84,0.314),(-0.65,0.463),(-0.47,0.61),(-0.28,0.698),(-0.10,0.73),(0.05,0.71),(0.21,0.587),(0.40,0.389),(0.58,0.215),(0.77,0.092),(0.95,0.054),(1.14,0.079),(1.32,0.109),(1.51,0.111),(1.69,0.074),(1.88,0.037),(2.06,0.059),(2.25,0.097),(2.43,0.109),(2.62,0.079),(2.80,0.035),(2.99,0.01),(3.23,0.002)]
Peric_coding = [(-0.90,0),(-0.80,0.03),(-0.72,0.215),(-0.62,0.56),(-0.52,0.98),(-0.42,1.33),(-0.32,1.45),(-0.23,1.35),(-0.13,1.11),(-0.03,0.834),(0.07,0.66),(0.17,0.51),(0.30,0.339),(0.42,0.215),(0.58,0.141),(0.77,0.079),(0.95,0.03),(1.14,0.017),(1.38,0.005),(1.75,0)]
Vend1_lincRNA = [(-1.94,0),(-1.69,0.005),(-1.44,0.042),(-1.26,0.116),(-1.07,0.265),(-0.89,0.463),(-0.70,0.64),(-0.58,0.698),(-0.48,0.71),(-0.36,0.636),(-0.21,0.512),(-0.02,0.413),(0.16,0.35),(0.35,0.314),(0.53,0.24),(0.72,0.178),(0.90,0.141),(1.09,0.104),(1.27,0.067),(1.52,0.03),(1.77,0.012),(2.01,0.017),(2.32,0.042),(2.60,0.054),(2.88,0.037),(3.12,0.012),(3.37,0.002)]
Vend1_coding = [(-1.05,0),(-0.95,0.03),(-0.83,0.19),(-0.70,0.51),(-0.58,0.93),(-0.48,1.18),(-0.41,1.27),(-0.31,1.205),(-0.21,1.0),(-0.09,0.76),(0.04,0.61),(0.14,0.463),(0.26,0.314),(0.41,0.178),(0.53,0.141),(0.68,0.092),(0.84,0.067),(1.02,0.042),(1.21,0.022),(1.46,0.007),(1.77,0)]
Astro2_lincRNA = [(-1.93,0),(-1.68,0.012),(-1.43,0.067),(-1.25,0.153),(-1.06,0.314),(-0.88,0.56),(-0.75,0.698),(-0.65,0.735),(-0.54,0.698),(-0.38,0.56),(-0.20,0.438),(-0.01,0.339),(0.17,0.265),(0.36,0.19),(0.54,0.141),(0.77,0.104),(0.975,0.067),(1.22,0.03),(1.47,0.01),(1.78,0.002),(2.02,0.007),(2.33,0.037),(2.64,0.054),(2.95,0.03),(3.20,0.007),(3.38,0)]
Astro2_coding = [(-1.31,0),(-1.19,0.017),(-1.06,0.116),(-0.94,0.364),(-0.81,0.76),(-0.69,1.03),(-0.59,1.12),(-0.51,1.126),(-0.42,1.01),(-0.30,0.884),(-0.20,0.76),(-0.07,0.56),(0.07,0.339),(0.23,0.215),(0.36,0.141),(0.52,0.092),(0.67,0.067),(0.85,0.03),(1.10,0.017),(1.35,0.005),(1.65,0)]
Astro1_lincRNA = [(-1.95,0),(-1.72,0.01),(-1.54,0.054),(-1.36,0.19),(-1.19,0.438),(-1.01,0.71),(-0.87,0.859),(-0.78,0.896),(-0.68,0.846),(-0.56,0.686),(-0.42,0.512),(-0.25,0.438),(-0.07,0.364),(0.11,0.252),(0.28,0.166),(0.46,0.134),(0.69,0.149),(0.87,0.104),(1.05,0.042),(1.22,0.012),(1.46,0.002),(2.22,0.002),(2.46,0.03),(2.69,0.042),(2.93,0.017),(3.22,0)]
Astro1_coding = [(-1.42,0),(-1.27,0.03),(-1.13,0.166),(-1.01,0.389),(-0.89,0.686),(-0.78,0.933),(-0.66,1.07),(-0.58,1.10),(-0.48,1.03),(-0.36,0.884),(-0.21,0.71),(-0.07,0.537),(0.11,0.339),(0.28,0.215),(0.46,0.141),(0.64,0.092),(0.81,0.054),(1.01,0.025),(1.22,0.01),(1.58,0.002),(1.93,0)]
Choroid_lincRNA = [(-1.94,0),(-1.71,0.005),(-1.41,0.03),(-1.12,0.092),(-0.82,0.166),(-0.53,0.24),(-0.24,0.314),(0.0,0.389),(0.24,0.488),(0.41,0.55),(0.55,0.567),(0.71,0.537),(0.88,0.438),(1.06,0.327),(1.24,0.24),(1.47,0.19),(1.71,0.166),(1.94,0.129),(2.18,0.109),(2.41,0.124),(2.65,0.136),(2.88,0.104),(3.12,0.059),(3.35,0.022),(3.44,0.017)]
Choroid_coding = [(-0.59,0),(-0.49,0.03),(-0.41,0.19),(-0.33,0.56),(-0.24,1.057),(-0.15,1.40),(-0.08,1.527),(-0.02,1.515),(0.06,1.33),(0.14,1.057),(0.24,0.81),(0.35,0.61),(0.47,0.438),(0.59,0.314),(0.71,0.215),(0.85,0.129),(1.0,0.079),(1.12,0.054),(1.24,0.022),(1.47,0.007),(1.76,0)]
Epend_lincRNA = [(-1.34,0),(-1.16,0.017),(-0.99,0.116),(-0.81,0.364),(-0.64,0.735),(-0.49,0.983),(-0.38,1.027),(-0.26,0.933),(-0.14,0.686),(-0.01,0.463),(0.13,0.351),(0.25,0.339),(0.40,0.364),(0.54,0.265),(0.72,0.116),(0.89,0.042),(1.13,0.017),(1.36,0.042),(1.60,0.059),(1.81,0.037),(2.01,0.035),(2.25,0.059),(2.48,0.054),(2.72,0.022),(2.95,0.005),(3.19,0)]
Epend_coding = [(-0.87,0),(-0.75,0.017),(-0.64,0.19),(-0.54,0.56),(-0.46,0.983),(-0.38,1.205),(-0.28,1.30),(-0.19,1.205),(-0.09,1.106),(0.01,0.908),(0.13,0.66),(0.25,0.463),(0.40,0.314),(0.54,0.19),(0.72,0.092),(0.89,0.054),(1.13,0.03),(1.36,0.012),(1.66,0.002),(1.95,0)]

PANELS = [
    ("Int10", Int10_lincRNA, Int10_coding), ("Int6", Int6_lincRNA, Int6_coding),
    ("Int9", Int9_lincRNA, Int9_coding), ("Int2", Int2_lincRNA, Int2_coding),
    ("Int4", Int4_lincRNA, Int4_coding), ("Int1", Int1_lincRNA, Int1_coding),
    ("Int3", Int3_lincRNA, Int3_coding), ("Int13", Int13_lincRNA, Int13_coding),
    ("Int16", Int16_lincRNA, Int16_coding), ("Int14", Int14_lincRNA, Int14_coding),
    ("Int11", Int11_lincRNA, Int11_coding), ("Int5", Int5_lincRNA, Int5_coding),
    ("Int7", Int7_lincRNA, Int7_coding), ("Int8", Int8_lincRNA, Int8_coding),
    ("Int12", Int12_lincRNA, Int12_coding), ("Int15", Int15_lincRNA, Int15_coding),
    ("(none)", none_lincRNA, none_coding), ("S1PyrL4", S1PyrL4_lincRNA, S1PyrL4_coding),
    ("ClauPyr", ClauPyr_lincRNA, ClauPyr_coding), ("S1PyrL5", S1PyrL5_lincRNA, S1PyrL5_coding),
    ("S1PyrL23", S1PyrL23_lincRNA, S1PyrL23_coding), ("S1PyrDL", S1PyrDL_lincRNA, S1PyrDL_coding),
    ("S1PyrL5a", S1PyrL5a_lincRNA, S1PyrL5a_coding), ("SubPyr", SubPyr_lincRNA, SubPyr_coding),
    ("CA1Pyr1", CA1Pyr1_lincRNA, CA1Pyr1_coding), ("S1PyrL6b", S1PyrL6b_lincRNA, S1PyrL6b_coding),
    ("S1PyrL6", S1PyrL6_lincRNA, S1PyrL6_coding), ("CA1Pyr2", CA1Pyr2_lincRNA, CA1Pyr2_coding),
    ("CA1PyrInt", CA1PyrInt_lincRNA, CA1PyrInt_coding), ("CA2Pyr2", CA2Pyr2_lincRNA, CA2Pyr2_coding),
    ("Oligo1", Oligo1_lincRNA, Oligo1_coding), ("Oligo3", Oligo3_lincRNA, Oligo3_coding),
    ("Oligo4", Oligo4_lincRNA, Oligo4_coding), ("Oligo2", Oligo2_lincRNA, Oligo2_coding),
    ("Oligo6", Oligo6_lincRNA, Oligo6_coding), ("Oligo5", Oligo5_lincRNA, Oligo5_coding),
    ("Mgl1", Mgl1_lincRNA, Mgl1_coding), ("Mgl2", Mgl2_lincRNA, Mgl2_coding),
    ("Pvm1", Pvm1_lincRNA, Pvm1_coding), ("Pvm2", Pvm2_lincRNA, Pvm2_coding),
    ("Vsmc", Vsmc_lincRNA, Vsmc_coding), ("Vend2", Vend2_lincRNA, Vend2_coding),
    ("Peric", Peric_lincRNA, Peric_coding), ("Vend1", Vend1_lincRNA, Vend1_coding),
    ("Astro2", Astro2_lincRNA, Astro2_coding), ("Astro1", Astro1_lincRNA, Astro1_coding),
    ("Choroid", Choroid_lincRNA, Choroid_coding), ("Epend", Epend_lincRNA, Epend_coding),
]

# ---------------- layout / style ----------------
FONT = "Liberation Sans"
SMALL = "19.7px"
BIG = "24.7px"
NCOL, NROW = 6, 8
FRAME_W, PANEL_H, STRIP_H = 616, 450, 39
FRAME_H = PANEL_H + STRIP_H
COL_GAP = 14
ROW_GAPS = [14, 13, 14, 13, 14, 13, 14]
LEFT_AXIS, TOP_PAD, BOTTOM_AXIS = 44, 13, 34
YLAB_W, LEGEND_W, XLAB_H = 44, 242, 42
TOTAL_H = 4096

Y_MAX = max(q[1] for _, a, b in PANELS for q in a + b)
Y0, Y1 = -0.05 * Y_MAX, 1.05 * Y_MAX
Y_END = Y1 + (Y1 - Y0) * STRIP_H / PANEL_H
X_PAD = 0.05 * (X_MAX - X_MIN)
XR0, XR1 = X_MIN - X_PAD, X_MAX + X_PAD


def style_axis(ax, ticks, fmt=None):
    ax.ticker = FixedTicker(ticks=ticks)
    if fmt is not None:
        ax.formatter = fmt
    ax.axis_line_color = None
    ax.major_tick_in = 0
    ax.major_tick_out = 6
    ax.major_tick_line_color = "#333333"
    ax.major_tick_line_width = 1.1
    ax.minor_tick_line_color = None
    ax.major_label_standoff = 5
    ax.major_label_text_font = FONT
    ax.major_label_text_font_size = SMALL
    ax.major_label_text_color = "#4D4D4D"


def make_panel(i, name, lnc, pc):
    r, c = divmod(i, NCOL)
    left = LEFT_AXIS if c == 0 else 0
    right = COL_GAP if c < NCOL - 1 else 0
    top = TOP_PAD if r == 0 else 0
    bottom = BOTTOM_AXIS if r == NROW - 1 else ROW_GAPS[r]
    p = figure(width=left + FRAME_W + right, height=top + FRAME_H + bottom,
               x_range=Range1d(XR0, XR1), y_range=Range1d(Y0, Y_END),
               x_axis_location="below" if r == NROW - 1 else None,
               y_axis_location="left" if c == 0 else None,
               output_backend="svg", toolbar_location=None, tools="",
               min_border_left=left, min_border_right=right,
               min_border_top=top, min_border_bottom=bottom)
    p.background_fill_color = "white"
    p.border_fill_color = "white"
    p.outline_line_color = "#333333"
    p.outline_line_width = 1.1
    p.xgrid.ticker = FixedTicker(ticks=X_TICKS, minor_ticks=X_MINOR)
    p.ygrid.ticker = FixedTicker(ticks=Y_TICKS, minor_ticks=Y_MINOR)
    for g in (p.xgrid[0], p.ygrid[0]):
        g.grid_line_color = "#EBEBEB"
        g.grid_line_width = 2
        g.minor_grid_line_color = "#EBEBEB"
        g.minor_grid_line_width = 1
    if c == 0:
        style_axis(p.yaxis[0], Y_TICKS, NumeralTickFormatter(format="0.0"))
    if r == NROW - 1:
        style_axis(p.xaxis[0], X_TICKS)

    for pts, color in ((lnc, SERIES_COLORS[0]), (pc, SERIES_COLORS[1])):
        xs = [X_MIN] + [q[0] for q in pts] + [X_MAX]
        ys = [0.0] + [q[1] for q in pts] + [0.0]
        p.patch(xs, ys, fill_color=None, line_color=color, line_width=2.4,
                line_join="round")

    p.add_layout(BoxAnnotation(bottom=Y1, fill_color="#D9D9D9", fill_alpha=1.0,
                               line_color="#333333", line_alpha=1.0, line_width=1.1))
    p.add_layout(Label(x=(XR0 + XR1) / 2, y=(Y1 + Y_END) / 2, text=name,
                       text_align="center", text_baseline="middle",
                       text_font=FONT, text_font_size=SMALL, text_color="#1A1A1A"))
    return p


panels = [make_panel(i, n, a, b) for i, (n, a, b) in enumerate(PANELS)]
grid = column(*[row(*panels[r * NCOL:(r + 1) * NCOL]) for r in range(NROW)])

grid_w = LEFT_AXIS + NCOL * FRAME_W + (NCOL - 1) * COL_GAP


def blank(w, h):
    f = figure(width=w, height=h, x_range=Range1d(0, 1), y_range=Range1d(0, 1),
               x_axis_location=None, y_axis_location=None, output_backend="svg",
               toolbar_location=None, tools="", min_border=0,
               min_border_left=0, min_border_right=0, min_border_top=0, min_border_bottom=0)
    f.grid.visible = False
    f.outline_line_color = None
    f.background_fill_color = "white"
    f.border_fill_color = "white"
    return f


# y axis title
ylab = blank(YLAB_W, TOTAL_H)
ylab.add_layout(Label(x=22, y=TOTAL_H - 2035, x_units="screen", y_units="screen",
                      text="Density", angle=math.pi / 2, text_align="center",
                      text_baseline="middle", text_font=FONT, text_font_size=BIG,
                      text_color="black"))

# x axis title
xlab = blank(grid_w, XLAB_H)
xlab.add_layout(Label(x=1971 - YLAB_W, y=XLAB_H - 13, x_units="screen", y_units="screen",
                      text="Log10(Mean copy per cell", text_align="center",
                      text_baseline="middle", text_font=FONT, text_font_size=BIG,
                      text_color="black"))

# legend (key renderers sit outside the visible range; only their legend glyphs show)
leg = blank(LEGEND_W, TOTAL_H)
KEY_X = [5, 6, 6, 5]
KEY_Y = [5, 5, 6, 6]
r1 = leg.patch(x=KEY_X, y=KEY_Y, fill_color=None, line_color=SERIES_COLORS[0], line_width=2.3)
r2 = leg.patch(x=KEY_X, y=KEY_Y, fill_color=None, line_color=SERIES_COLORS[1], line_width=2.3)
legend = Legend(items=[LegendItem(label=SERIES[0], renderers=[r1]),
                       LegendItem(label=SERIES[1], renderers=[r2])],
                location=(38, 2003), title="Gene BioType",
                title_text_font=FONT, title_text_font_size=BIG,
                title_text_font_style="normal", title_text_color="black",
                title_standoff=0,
                label_text_font=FONT, label_text_font_size=SMALL, label_text_color="black",
                glyph_width=43, glyph_height=43, label_height=43, label_standoff=4,
                spacing=-3, padding=0, margin=0,
                background_fill_alpha=0, border_line_color=None)
leg.add_layout(legend)

layout = row(ylab, column(grid, xlab), leg)

open("out.html", "w").write(file_html(layout, INLINE))
